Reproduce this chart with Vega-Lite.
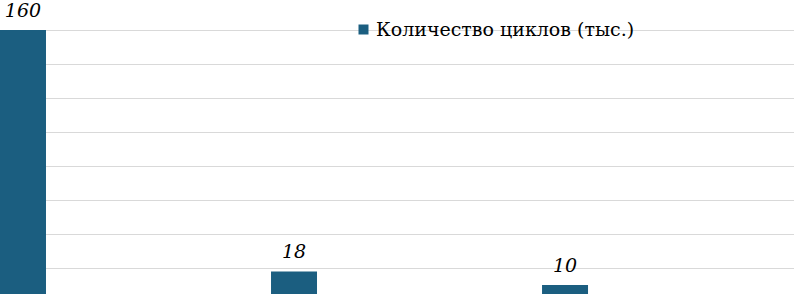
{
  "$schema": "https://vega.github.io/schema/vega-lite/v6.json",
  "width": 794,
  "height": 264,
  "autosize": {"type": "none"},
  "padding": {"left": 0, "top": 30, "right": 0, "bottom": 0},
  "background": "white",
  "config": {"view": {"stroke": null}},
  "data": {
    "values": [
      {"category": "A", "value": 160, "series": "Количество циклов (тыс.)"},
      {"category": "B", "value": 18, "series": "Количество циклов (тыс.)"},
      {"category": "C", "value": 10, "series": "Количество циклов (тыс.)"}
    ]
  },
  "encoding": {
    "x": {
      "field": "category",
      "type": "nominal",
      "scale": {"paddingInner": 0.8303, "paddingOuter": 0.38, "align": 0},
      "axis": null
    },
    "y": {
      "field": "value",
      "type": "quantitative",
      "scale": {"domain": [4.7, 160], "nice": false, "zero": false},
      "axis": {
        "values": [20, 40, 60, 80, 100, 120, 140, 160],
        "labels": false,
        "ticks": false,
        "domain": false,
        "title": null,
        "grid": true,
        "gridColor": "#d9d9d9",
        "gridWidth": 1
      }
    }
  },
  "layer": [
    {
      "mark": {"type": "bar", "clip": true, "color": "#1b5e80"},
      "encoding": {
        "y2": {"datum": 0},
        "color": {
          "field": "series",
          "type": "nominal",
          "scale": {"range": ["#1b5e80"]},
          "legend": {
            "orient": "none",
            "legendX": 354,
            "legendY": -10,
            "title": null,
            "symbolType": "square",
            "symbolSize": 100,
            "symbolStrokeWidth": 0,
            "labelFont": "DejaVu Serif",
            "labelFontSize": 19,
            "labelLimit": 400,
            "labelColor": "#000000",
            "labelOffset": 3,
            "padding": 0
          }
        }
      }
    },
    {
      "mark": {
        "type": "text",
        "font": "DejaVu Serif",
        "fontStyle": "italic",
        "fontSize": 19,
        "baseline": "alphabetic",
        "dy": -13,
        "color": "#000000"
      },
      "encoding": {"text": {"field": "value", "type": "quantitative"}}
    }
  ]
}
